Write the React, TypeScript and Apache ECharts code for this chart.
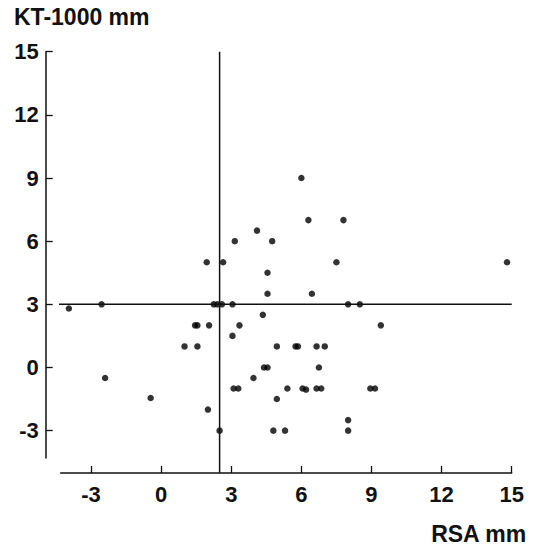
import React, { useEffect, useRef } from "react";
import * as echarts from "echarts";

// RSA (mm) and KT-1000 (mm) values per subject
const rsaMm = [
  -3.95, -2.55, -2.4, -0.45, 6, 6.3, 7.8, 4.1, 3.15, 4.75, 1.95, 2.65, 7.5, 4.55,
  4.55, 6.45, 2.25, 2.4, 2.6, 3.05, 8, 8.5, 4.35, 1.45, 1.55, 2.05, 3.35, 9.4,
  3.05, 1.0, 1.55, 4.95, 5.75, 5.85, 6.65, 7.0, 4.4, 4.55, 6.75, 3.95, 3.1, 3.3,
  5.4, 6.05, 6.2, 6.65, 6.85, 8.95, 9.15, 4.95, 2.0, 8, 2.5, 4.8, 5.3, 8, 14.8,
];
const ktMm = [
  2.8, 3, -0.5, -1.45, 9, 7, 7, 6.5, 6, 6, 5, 5, 5, 4.5,
  3.5, 3.5, 3, 3, 3, 3, 3, 3, 2.5, 2, 2, 2, 2, 2,
  1.5, 1, 1, 1, 1, 1, 1, 1, 0, 0, 0, -0.5, -1, -1,
  -1, -1, -1.05, -1, -1, -1, -1, -1.5, -2, -2.5, -3, -3, -3, -3, 5,
];
const xTicks = [-3, 0, 3, 6, 9, 12, 15];
const yTicks = [-3, 0, 3, 6, 9, 12, 15];
const rsaCutoff = 2.5;
const ktCutoff = 3;
const xAxisTitle = "RSA mm";
const yAxisTitle = "KT-1000 mm";

const FONT = "'Liberation Sans', Arial, Helvetica, sans-serif";

export default function App() {
  const ref = useRef<HTMLDivElement>(null);
  useEffect(() => {
    document.body.style.margin = "0";
    if (!ref.current) return;
    const chart = echarts.init(ref.current, undefined, { renderer: "svg" });
    const points = rsaMm.map((x, i) => [x, ktMm[i]]);
    const tickStyle = { show: true, inside: false, length: -7, lineStyle: { color: "#111", width: 1.3 } };
    const axisLine = { show: true, onZero: false, lineStyle: { color: "#111", width: 1.5 } };
    const labelStyle = {
      color: "#111",
      fontFamily: FONT,
      fontWeight: "bold",
      fontSize: 22,
    };
    chart.setOption({
      animation: false,
      backgroundColor: "#fff",
      grid: { left: 60.7, right: 28.3, top: 51.7, bottom: 89, outerBoundsMode: "none", containLabel: false },
      xAxis: {
        type: "value",
        min: -4.3,
        max: 15,
        offset: 15,
        splitLine: { show: false },
        axisLine,
        axisTick: { ...tickStyle, customValues: xTicks },
        axisLabel: { ...labelStyle, customValues: xTicks, margin: 10 },
      },
      yAxis: {
        type: "value",
        min: -4.3,
        max: 15,
        offset: 15,
        splitLine: { show: false },
        axisLine,
        axisTick: { ...tickStyle, customValues: yTicks },
        axisLabel: { ...labelStyle, customValues: yTicks, margin: 7 },
      },
      graphic: [
        {
          type: "text",
          left: 14,
          top: 5,
          style: { text: yAxisTitle, fill: "#111", font: `bold 23px ${FONT}` },
        },
        {
          type: "text",
          right: 13,
          top: 522,
          style: { text: xAxisTitle, fill: "#111", font: `bold 23px ${FONT}` },
        },
      ],
      series: [
        {
          type: "line",
          data: [
            [rsaCutoff, 15],
            [rsaCutoff, -5],
          ],
          clip: false,
          symbol: "none",
          lineStyle: { color: "#111", width: 1.5 },
          silent: true,
        },
        {
          type: "line",
          data: [
            [-4.95, ktCutoff],
            [15, ktCutoff],
          ],
          clip: false,
          symbol: "none",
          lineStyle: { color: "#111", width: 1.5 },
          silent: true,
        },
        {
          type: "scatter",
          data: points,
          symbol: "circle",
          symbolSize: 6.5,
          itemStyle: { color: "#000" },
        },
      ],
    });
    return () => chart.dispose();
  }, []);
  return <div ref={ref} style={{ width: 540, height: 547 }} />;
}
